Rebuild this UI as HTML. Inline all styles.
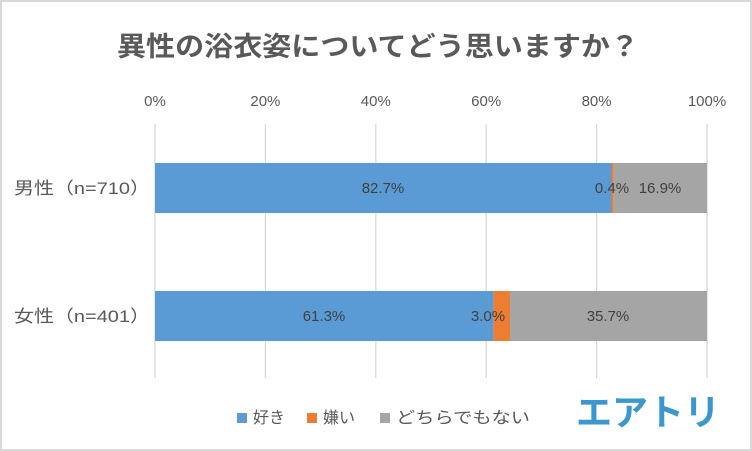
<!DOCTYPE html>
<html><head><meta charset="utf-8"><style>
html,body{margin:0;padding:0;background:#fff}
svg{display:block}
text{font-family:"Liberation Sans","Noto Sans CJK JP",sans-serif;fill:#595959}
</style></head><body>
<svg width="752" height="451" viewBox="0 0 752 451" xmlns="http://www.w3.org/2000/svg">
<rect x="1" y="1" width="750" height="449" fill="#fff" stroke="#d9d9d9" stroke-width="2"/>
<text x="378" y="56" text-anchor="middle" font-size="27" font-weight="bold" textLength="522" lengthAdjust="spacingAndGlyphs">異性の浴衣姿についてどう思いますか？</text>
<g stroke="#d9d9d9" stroke-width="1.3">
<line x1="155" y1="124" x2="155" y2="378"/><line x1="265.4" y1="124" x2="265.4" y2="378"/>
<line x1="375.8" y1="124" x2="375.8" y2="378"/><line x1="486.2" y1="124" x2="486.2" y2="378"/>
<line x1="596.6" y1="124" x2="596.6" y2="378"/><line x1="707" y1="124" x2="707" y2="378"/>
</g>
<g font-size="15" text-anchor="middle">
<text x="155" y="106">0%</text><text x="265.4" y="106">20%</text><text x="375.8" y="106">40%</text>
<text x="486.2" y="106">60%</text><text x="596.6" y="106">80%</text><text x="707" y="106">100%</text>
</g>
<rect x="155" y="163" width="456.5" height="50" fill="#5b9bd5"/>
<rect x="611.5" y="163" width="2.2" height="50" fill="#ed7d31"/>
<rect x="613.7" y="163" width="93.3" height="50" fill="#a5a5a5"/>
<rect x="155" y="291" width="338.4" height="50" fill="#5b9bd5"/>
<rect x="493.4" y="291" width="16.6" height="50" fill="#ed7d31"/>
<rect x="510" y="291" width="197" height="50" fill="#a5a5a5"/>
<g font-size="15" text-anchor="middle">
<text x="383" y="193" style="fill:#404040">82.7%</text>
<text x="612" y="193" style="fill:#404040">0.4%</text>
<text x="660" y="193" style="fill:#404040">16.9%</text>
<text x="324" y="321" style="fill:#404040">61.3%</text>
<text x="488" y="321" style="fill:#404040">3.0%</text>
<text x="608" y="321" style="fill:#404040">35.7%</text>
</g>
<g font-size="17">
<text x="14" y="194" textLength="136" lengthAdjust="spacingAndGlyphs">男性（n=710）</text>
<text x="14" y="322" textLength="136" lengthAdjust="spacingAndGlyphs">女性（n=401）</text>
</g>
<g font-size="16">
<rect x="237" y="413" width="10" height="10" fill="#5b9bd5"/><text x="253" y="423">好き</text>
<rect x="307" y="413" width="10" height="10" fill="#ed7d31"/><text x="323" y="423">嫌い</text>
<rect x="380" y="413" width="10" height="10" fill="#a5a5a5"/><text x="396" y="423" textLength="134" lengthAdjust="spacingAndGlyphs">どちらでもない</text>
</g>
<text x="648" y="425" text-anchor="middle" font-size="36" font-weight="bold" style="fill:#3a97cf">エアトリ</text>
</svg>
</body></html>
